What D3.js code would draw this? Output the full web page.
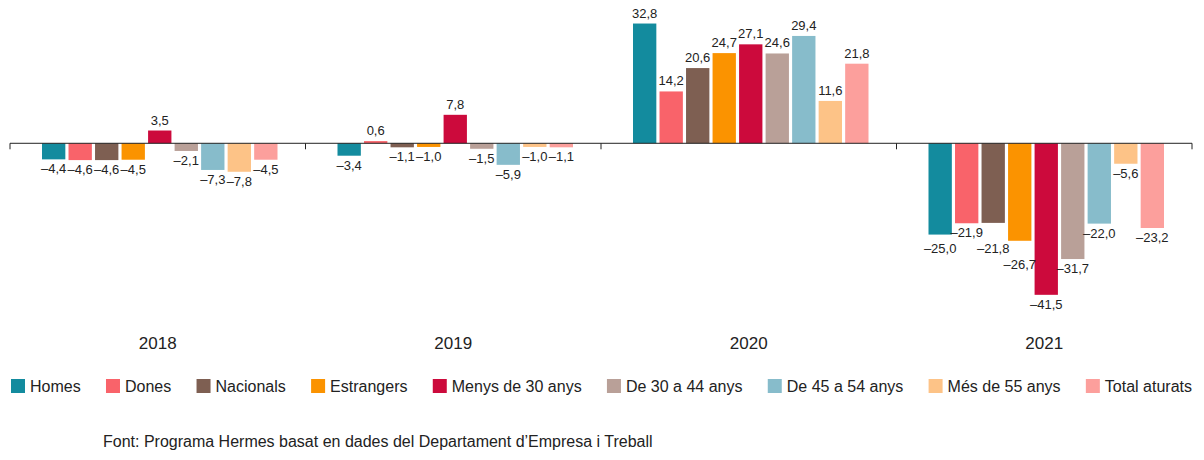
<!DOCTYPE html>
<html>
<head>
<meta charset="utf-8">
<script src="https://cdn.jsdelivr.net/npm/d3@7"></script>
<style>
  body { margin: 0; background: #fff; }
  text { font-family: "Liberation Sans", Arial, sans-serif; fill: #222; }
</style>
</head>
<body>
<svg id="chart"></svg>
<script>
const years = ["2018", "2019", "2020", "2021"];
const series = ["Homes", "Dones", "Nacionals", "Estrangers", "Menys de 30 anys",
  "De 30 a 44 anys", "De 45 a 54 anys", "Més de 55 anys", "Total aturats"];
const colors = ["#138b9e", "#f9636a", "#7e5f52", "#fb9300", "#cc0a3c",
  "#b9a098", "#87bccb", "#fdc387", "#fc9f9c"];

// one array per year, in series order
const v2018 = [-4.4, -4.6, -4.6, -4.5, 3.5, -2.1, -7.3, -7.8, -4.5];
const v2019 = [-3.4, 0.6, -1.1, -1.0, 7.8, -1.5, -5.9, -1.0, -1.1];
const v2020 = [32.8, 14.2, 20.6, 24.7, 27.1, 24.6, 29.4, 11.6, 21.8];
const v2021 = [-25.0, -21.9, -21.8, -26.7, -41.5, -31.7, -22.0, -5.6, -23.2];
const values = [v2018, v2019, v2020, v2021];

const source = "Font: Programa Hermes basat en dades del Departament d\u2019Empresa i Treball";

const width = 1204, height = 460;
const svg = d3.select("#chart").attr("width", width).attr("height", height);

const x0 = d3.scaleBand().domain(years).range([10, 1192]);
const x1 = d3.scaleBand().domain(series).range([32, x0.bandwidth() - 28]).paddingInner(0.12);
const y = d3.scaleLinear().domain([-45, 35]).range([307.6, 15.5]);
const color = d3.scaleOrdinal().domain(series).range(colors);

const fmt = v => (v < 0 ? "\u2013" : "") + d3.format(".1f")(Math.abs(v)).replace(".", ",");

const rows = years.flatMap((yr, i) => series.map((s, j) => ({ year: yr, series: s, value: values[i][j] })));

const g = svg.append("g");

g.selectAll("rect")
  .data(rows)
  .join("rect")
  .attr("x", d => x0(d.year) + x1(d.series))
  .attr("width", x1.bandwidth())
  .attr("y", d => y(Math.max(0, d.value)))
  .attr("height", d => Math.abs(y(d.value) - y(0)))
  .attr("fill", d => color(d.series));

const labels = g.selectAll("text.val")
  .data(rows)
  .join("text")
  .attr("class", "val")
  .attr("x", d => x0(d.year) + x1(d.series) + x1.bandwidth() / 2)
  .attr("y", d => d.value >= 0 ? y(d.value) - 6 : y(d.value) + 14)
  .attr("text-anchor", "middle")
  .attr("font-size", 13)
  .text(d => fmt(d.value));

// when two negative labels collide, push down the one under the longer bar
const overlaps = (a, b) => a.x < b.x + b.width && b.x < a.x + a.width && a.y < b.y + b.height && b.y < a.y + a.height;
const placed = [];
labels.each(function (d) {
  const me = { node: this, d };
  for (let k = 0; k < 10; k++) {
    const b = this.getBBox();
    const hit = placed.find(p => overlaps(b, p.node.getBBox()));
    if (!hit) break;
    const hb = hit.node.getBBox();
    let mover = me, other = b, mb = hb;
    if (d.value < 0 && Math.abs(d.value) < Math.abs(hit.d.value) - 1) {
      mover = hit; other = b; mb = hb;
    } else {
      mover = me; other = hb; mb = b;
    }
    const dy = other.y + other.height - mb.y + 1;
    const sel = d3.select(mover.node);
    sel.attr("y", +sel.attr("y") + (d.value < 0 ? dy : -dy));
  }
  placed.push(me);
});

// zero axis with ticks at group boundaries
const axis = svg.append("g").attr("transform", `translate(0,${y(0)})`);
axis.append("line").attr("x1", 10).attr("x2", 1192).attr("stroke", "#222").attr("stroke-width", 1);
const bounds = years.map(d => x0(d)).concat([x0.range()[1]]);
axis.selectAll("line.tick")
  .data(bounds)
  .join("line")
  .attr("class", "tick")
  .attr("x1", d => d).attr("x2", d => d)
  .attr("y1", 0).attr("y2", 6)
  .attr("stroke", "#222");

svg.selectAll("text.year")
  .data(years)
  .join("text")
  .attr("class", "year")
  .attr("x", d => x0(d) + x0.bandwidth() / 2)
  .attr("y", 349)
  .attr("text-anchor", "middle")
  .attr("font-size", 17)
  .text(d => d);

// legend spread across the width
const leg = svg.append("g").attr("transform", "translate(0,386)");
const items = leg.selectAll("g").data(series).join("g");
items.append("rect").attr("width", 14).attr("height", 14).attr("y", -7).attr("fill", d => color(d));
items.append("text").attr("x", 19).attr("dy", "0.35em").attr("font-size", 16).text(d => d);
const widths = [];
items.each(function () { widths.push(this.getBBox().width); });
const total = d3.sum(widths);
const gap = (1192 - 11 - total) / (series.length - 1);
let cx = 11;
items.attr("transform", (d, i) => { const t = `translate(${cx},0)`; cx += widths[i] + gap; return t; });

svg.append("text")
  .attr("x", 103)
  .attr("y", 447)
  .attr("font-size", 16)
  .text(source);
</script>
</body>
</html>
